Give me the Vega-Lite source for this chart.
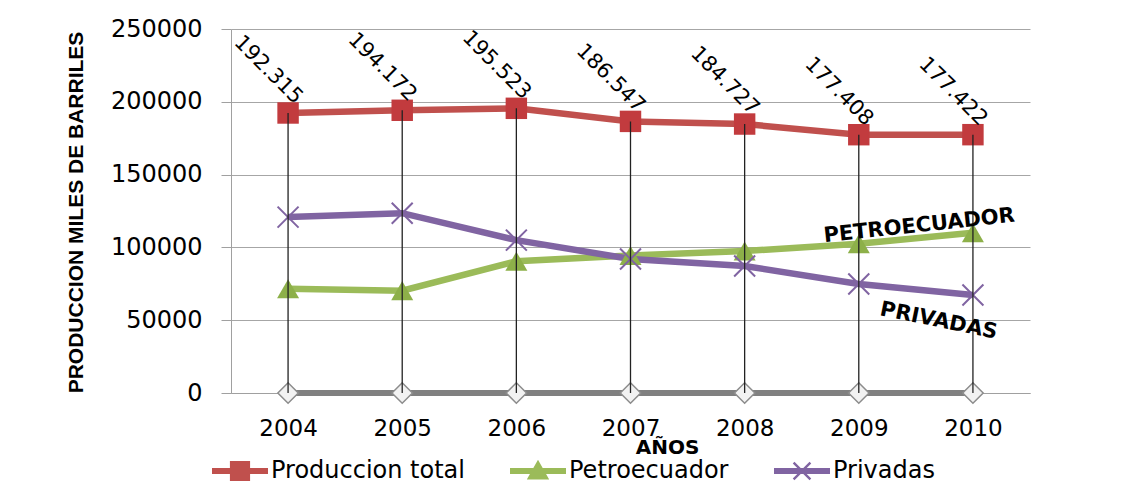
{
  "$schema": "https://vega.github.io/schema/vega-lite/v6.json",
  "width": 799,
  "height": 364,
  "autosize": {"type": "none"},
  "padding": {"left": 231, "top": 29, "right": 98, "bottom": 99},
  "background": "white",
  "config": {
    "locale": {"number": {"decimal": ",", "thousands": ".", "grouping": [3], "currency": ["$", ""]}},
    "view": {"stroke": null},
    "font": "DejaVu Sans"
  },
  "datasets": {
    "prod": [
      {"year": 2004, "series": "Produccion total", "value": 192315},
      {"year": 2005, "series": "Produccion total", "value": 194172},
      {"year": 2006, "series": "Produccion total", "value": 195523},
      {"year": 2007, "series": "Produccion total", "value": 186547},
      {"year": 2008, "series": "Produccion total", "value": 184727},
      {"year": 2009, "series": "Produccion total", "value": 177408},
      {"year": 2010, "series": "Produccion total", "value": 177422},
      {"year": 2004, "series": "Petroecuador", "value": 71600},
      {"year": 2005, "series": "Petroecuador", "value": 70300},
      {"year": 2006, "series": "Petroecuador", "value": 90500},
      {"year": 2007, "series": "Petroecuador", "value": 94500},
      {"year": 2008, "series": "Petroecuador", "value": 97500},
      {"year": 2009, "series": "Petroecuador", "value": 102500},
      {"year": 2010, "series": "Petroecuador", "value": 110100},
      {"year": 2004, "series": "Privadas", "value": 120800},
      {"year": 2005, "series": "Privadas", "value": 123500},
      {"year": 2006, "series": "Privadas", "value": 105000},
      {"year": 2007, "series": "Privadas", "value": 92000},
      {"year": 2008, "series": "Privadas", "value": 87200},
      {"year": 2009, "series": "Privadas", "value": 74900},
      {"year": 2010, "series": "Privadas", "value": 67300},
      {"year": 2004, "series": "Serie 4", "value": 0},
      {"year": 2005, "series": "Serie 4", "value": 0},
      {"year": 2006, "series": "Serie 4", "value": 0},
      {"year": 2007, "series": "Serie 4", "value": 0},
      {"year": 2008, "series": "Serie 4", "value": 0},
      {"year": 2009, "series": "Serie 4", "value": 0},
      {"year": 2010, "series": "Serie 4", "value": 0}
    ]
  },
  "data": {"name": "prod"},
  "encoding": {
    "x": {
      "field": "year",
      "type": "quantitative",
      "scale": {"domain": [2003.5, 2010.5], "nice": false, "zero": false},
      "axis": {
        "values": [2004, 2005, 2006, 2007, 2008, 2009, 2010],
        "format": "d",
        "grid": false,
        "ticks": false,
        "labelPadding": 24,
        "labelFontSize": 23,
        "labelColor": "black",
        "labelFlush": false,
        "labelOverlap": false,
        "domainColor": "#a0a0a0",
        "domainWidth": 1,
        "title": "AÑOS",
        "titleFont": "DejaVu Sans",
        "titleFontSize": 20,
        "titleFontWeight": "bold",
        "titleColor": "black",
        "titleX": 436,
        "titleY": 60,
        "titleAlign": "center",
        "titleBaseline": "alphabetic"
      }
    },
    "y": {
      "field": "value",
      "type": "quantitative",
      "scale": {"domain": [0, 250000], "nice": false},
      "axis": {
        "values": [0, 50000, 100000, 150000, 200000, 250000],
        "format": "d",
        "grid": true,
        "gridColor": "#a6a6a6",
        "gridWidth": 1,
        "tickSize": 10,
        "tickColor": "#a0a0a0",
        "domainColor": "#a0a0a0",
        "labelPadding": 19,
        "labelFontSize": 24,
        "labelColor": "black",
        "labelFlush": false,
        "labelOverlap": false,
        "title": "PRODUCCION MILES DE BARRILES",
        "titleFont": "Liberation Sans",
        "titleFontSize": 21,
        "titleFontWeight": "bold",
        "titleColor": "black",
        "titleAngle": 270,
        "titleX": -149,
        "titleY": 183,
        "titleAlign": "center",
        "titleBaseline": "alphabetic"
      }
    }
  },
  "layer": [
    {
      "transform": [{"filter": "datum.series !== 'Serie 4'"}],
      "mark": {"type": "point", "filled": true, "opacity": 0},
      "encoding": {
        "color": {
          "field": "series",
          "type": "nominal",
          "scale": {"domain": ["Produccion total", "Petroecuador", "Privadas"], "range": ["#c0504d", "#9bbb59", "#8064a2"]},
          "legend": {"orient": "none", "legendX": -19, "legendY": 414, "direction": "horizontal", "title": null, "labelFontSize": 24, "labelFont": "DejaVu Sans", "labelColor": "black", "symbolSize": 3136, "symbolStrokeWidth": 0, "symbolOpacity": 1, "columnPadding": 45, "labelOffset": 3, "padding": 0, "labelLimit": 400}
        },
        "shape": {
          "field": "series",
          "type": "nominal",
          "scale": {"domain": ["Produccion total", "Petroecuador", "Privadas"], "range": [
            "M-1,-0.11H-0.36V-0.36H0.36V-0.11H1V0.11H0.36V0.36H-0.36V0.11H-1Z",
            "M-1,-0.11H1V0.11H-1Z M0,-0.4L0.4,0.3L-0.4,0.3Z",
            "M-1,-0.11H1V0.11H-1Z M-0.33,-0.27L-0.27,-0.33L0.33,0.27L0.27,0.33Z M-0.33,0.27L0.27,-0.33L0.33,-0.27L-0.27,0.33Z"
          ]},
          "legend": {"orient": "none", "legendX": -19, "legendY": 414, "direction": "horizontal", "title": null, "labelFontSize": 24, "labelFont": "DejaVu Sans", "labelColor": "black", "symbolSize": 3136, "symbolStrokeWidth": 0, "symbolOpacity": 1, "columnPadding": 45, "labelOffset": 3, "padding": 0, "labelLimit": 400}
        }
      }
    },
    {
      "transform": [{"filter": "datum.series === 'Serie 4'"}],
      "mark": {"type": "line", "color": "#808080", "strokeWidth": 6},
      "encoding": {}
    },
    {
      "transform": [{"filter": "datum.series === 'Serie 4'"}],
      "mark": {"type": "point", "shape": "diamond", "filled": true, "fill": "#f2f2f2", "stroke": "#8c8c8c", "strokeWidth": 1.5, "size": 420, "opacity": 1},
      "encoding": {}
    },
    {
      "transform": [{"filter": "datum.series === 'Petroecuador'"}],
      "mark": {"type": "line", "color": "#9bbb59", "strokeWidth": 6.5},
      "encoding": {}
    },
    {
      "transform": [{"filter": "datum.series === 'Privadas'"}],
      "mark": {"type": "line", "color": "#8064a2", "strokeWidth": 6.5},
      "encoding": {}
    },
    {
      "transform": [{"filter": "datum.series === 'Produccion total'"}],
      "mark": {"type": "line", "color": "#c0504d", "strokeWidth": 6.5},
      "encoding": {}
    },
    {
      "transform": [{"filter": "datum.series === 'Petroecuador'"}],
      "mark": {"type": "point", "shape": "triangle-up", "filled": true, "color": "#8db049", "size": 484, "opacity": 1},
      "encoding": {}
    },
    {
      "transform": [{"filter": "datum.series === 'Privadas'"}],
      "mark": {"type": "point", "shape": "M-1,-1L1,1M-1,1L1,-1", "filled": false, "color": "#8064a2", "strokeWidth": 2, "size": 440, "opacity": 1},
      "encoding": {}
    },
    {
      "transform": [{"filter": "datum.series === 'Produccion total'"}],
      "mark": {"type": "point", "shape": "square", "filled": true, "color": "#c23b3e", "size": 460, "opacity": 1},
      "encoding": {}
    },
    {
      "transform": [{"filter": "datum.series === 'Produccion total'"}],
      "mark": {"type": "rule", "color": "#222222", "strokeWidth": 1.3},
      "encoding": {"y2": {"datum": 0}}
    },
    {
      "transform": [{"filter": "datum.series === 'Produccion total'"}],
      "mark": {"type": "text", "angle": 45, "align": "center", "baseline": "middle", "dx": -44.5, "dy": -16.3, "fontSize": 21, "font": "DejaVu Sans", "color": "black"},
      "encoding": {"text": {"field": "value", "type": "quantitative", "format": ",d"}}
    },
    {
      "data": {"values": [{"year": 2009.53, "value": 114700, "label": "PETROECUADOR"}]},
      "mark": {"type": "text", "angle": 353.8, "align": "center", "baseline": "middle", "fontSize": 21, "fontWeight": "bold", "font": "DejaVu Sans", "color": "black"},
      "encoding": {"text": {"field": "label"}}
    },
    {
      "data": {"values": [{"year": 2009.7, "value": 49450, "label": "PRIVADAS"}]},
      "mark": {"type": "text", "angle": 11.6, "align": "center", "baseline": "middle", "fontSize": 21, "fontWeight": "bold", "font": "DejaVu Sans", "color": "black"},
      "encoding": {"text": {"field": "label"}}
    }
  ]
}
